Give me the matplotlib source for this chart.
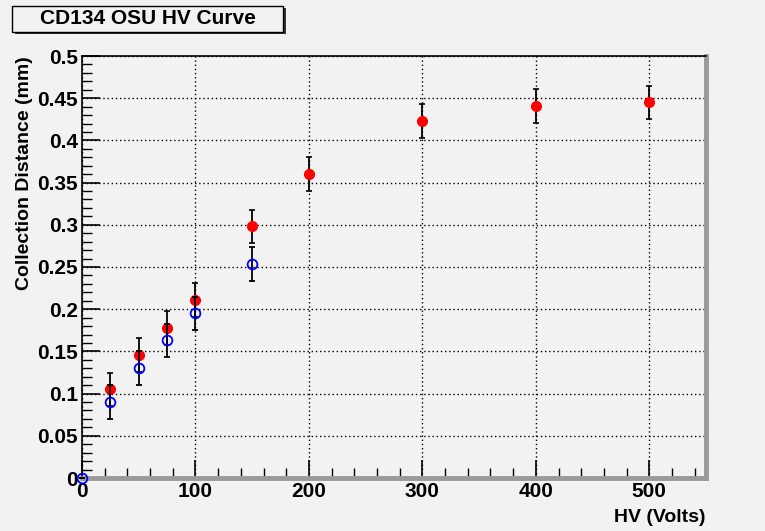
import numpy as np
import matplotlib
matplotlib.use("Agg")
import matplotlib.pyplot as plt
from matplotlib.patches import Rectangle
from matplotlib.ticker import MultipleLocator

plt.rcParams["font.family"] = ["Liberation Sans", "DejaVu Sans"]
plt.rcParams["font.weight"] = "bold"

# Data
hv_red = [25, 50, 75, 100, 150, 200, 300, 400, 500]
cd_red = [0.105, 0.146, 0.178, 0.2105, 0.298, 0.360, 0.423, 0.441, 0.445]
err_red = [0.02] * len(hv_red)

hv_blue = [0, 25, 50, 75, 100, 150]
cd_blue = [0.0, 0.090, 0.130, 0.163, 0.195, 0.254]
err_blue = [0.0, 0.02, 0.02, 0.02, 0.02, 0.02]

title = "CD134 OSU HV Curve"
xlabel = "HV (Volts)"
ylabel = "Collection Distance (mm)"
ytick_labels = ["0", "0.05", "0.1", "0.15", "0.2", "0.25", "0.3", "0.35", "0.4", "0.45", "0.5"]

bg = "#f2f2f2"
W, H = 765, 531

fig = plt.figure(figsize=(W / 100, H / 100), dpi=100, facecolor=bg)
ax = fig.add_axes([82 / W, 1 - 478 / H, (706 - 82) / W, (478 - 56) / H])
ax.set_facecolor(bg)

ax.set_xlim(0, 550)
ax.set_ylim(0, 0.5)

ax.xaxis.set_major_locator(MultipleLocator(100))
ax.xaxis.set_minor_locator(MultipleLocator(20))
ax.yaxis.set_minor_locator(MultipleLocator(0.01))
ax.set_yticks(np.arange(0, 0.501, 0.05))
ax.set_yticklabels(ytick_labels)

ax.tick_params(which="major", direction="in", length=13, width=1.2, labelsize=15, pad=3)
ax.tick_params(which="minor", direction="in", length=7, width=1.0)
ax.tick_params(top=False, right=False, which="both")
for lab in ax.get_xticklabels() + ax.get_yticklabels():
    lab.set_fontweight("bold")

ax.grid(True, which="major", linestyle=(0, (1, 2)), color="black", linewidth=1.0)
ax.set_axisbelow(True)

for side in ("top", "left"):
    ax.spines[side].set_color("black")
    ax.spines[side].set_linewidth(1.2)
for side in ("bottom", "right"):
    ax.spines[side].set_color("#9a9a9a")
    ax.spines[side].set_linewidth(3.5)

ax.errorbar(hv_red, cd_red, yerr=err_red, fmt="o", color="red", markersize=7,
            ecolor="black", elinewidth=1.3, capsize=2, capthick=1.2, zorder=3)
ax.errorbar(hv_blue, cd_blue, yerr=err_blue, fmt="o", color="blue", markersize=7,
            markerfacecolor="none", markeredgewidth=1.3, ecolor="black",
            elinewidth=1.3, capsize=2, capthick=1.2, zorder=4, clip_on=False)

# Axis titles placed like ROOT: right/top aligned
fig.text(706 / W, 1 - 518 / H, xlabel, ha="right", va="center", fontsize=14, fontweight="bold")
fig.text(25 / W, 1 - 56 / H, ylabel, ha="center", va="top", rotation=90,
         fontsize=14, fontweight="bold")

# Title box with shadow, ROOT style
x0, y0, x1, y1 = 12, 6, 283, 32
fig.patches.append(Rectangle(((x0 + 3) / W, 1 - (y1 + 2) / H), (x1 - x0) / W, (y1 - y0) / H,
                             transform=fig.transFigure, facecolor="#333333", edgecolor="none"))
fig.patches.append(Rectangle((x0 / W, 1 - y1 / H), (x1 - x0) / W, (y1 - y0) / H,
                             transform=fig.transFigure, facecolor=bg, edgecolor="black", linewidth=1.0))
fig.text((x0 + x1) / 2 / W, 1 - (y0 + y1) / 2 / H, title, ha="center", va="center",
         fontsize=15, fontweight="bold")

fig.savefig("out.png", dpi=100, facecolor=bg)
